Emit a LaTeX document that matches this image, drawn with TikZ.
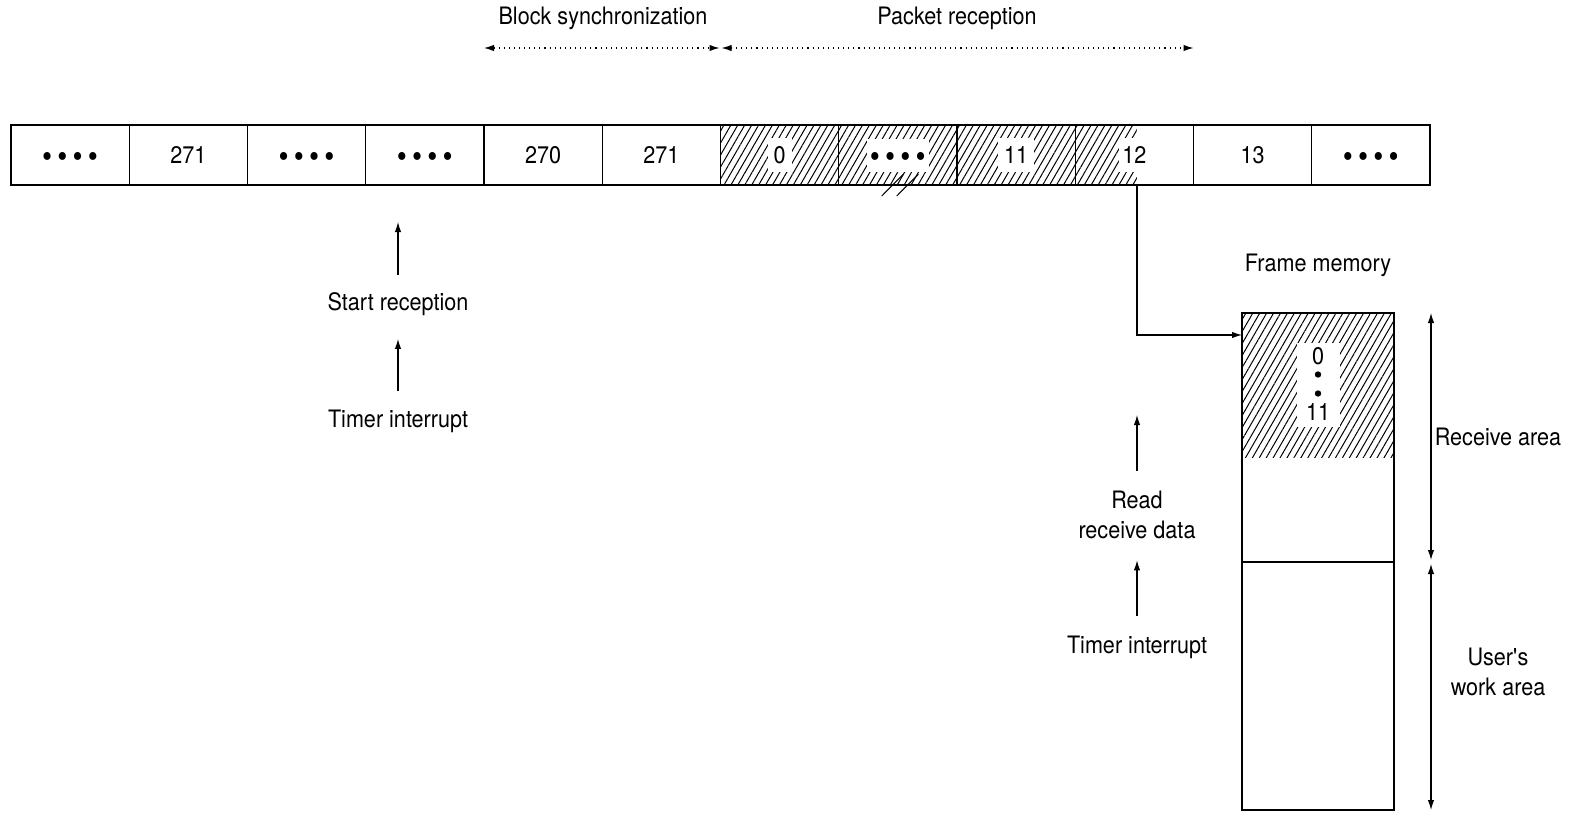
\documentclass[tikz,border=0pt]{standalone}
\usepackage{fontspec}
\setmainfont{TeX Gyre Heros}[FakeStretch=0.9]
\usetikzlibrary{patterns.meta,arrows.meta}
\newcommand\bigdot{{\fontsize{16}{16}\selectfont\raisebox{-6.4pt}[0pt][0pt]{\textbullet}}}
\newcommand\fourdots{\bigdot\hspace{2.6pt}\bigdot\hspace{2.6pt}\bigdot\hspace{2.6pt}\bigdot}
\begin{document}
\begin{tikzpicture}[x=0.5pt,y=-0.5pt,font=\fontsize{12}{14}\selectfont,
  cell/.style={draw,line width=0.7pt,minimum width=59.125pt,minimum height=30pt,inner sep=0pt,outer sep=0pt},
  hatch/.style={pattern={Lines[angle=60,distance=3pt,line width=0.5pt]}},
  arr/.style={line width=0.55pt,-{Latex[length=5pt,width=3.2pt]}},
  darr/.style={line width=0.55pt,{Latex[length=5pt,width=3.2pt]}-{Latex[length=5pt,width=3.2pt]}},
  dotarr/.style={line width=0.55pt,dotted,{Latex[length=5pt,width=3.2pt]}-{Latex[length=5pt,width=3.2pt]}},
  lab/.style={inner sep=1pt},
  wlab/.style={fill=white,inner xsep=3pt,inner ysep=4pt},
  mem/.style={draw,line width=0.7pt,minimum width=76pt,inner sep=0pt,outer sep=0pt}]
\useasboundingbox (0,0) rectangle (1570,815);

% cell row
\node[cell] (c1) at (70.125,155) {\fourdots};
\node[cell] (c2) at (188.375,155) {271};
\node[cell] (c3) at (306.625,155) {\fourdots};
\node[cell] (c4) at (424.875,155) {\fourdots};
\node[cell] (c5) at (543.125,155) {270};
\node[cell] (c6) at (661.375,155) {271};
\node[cell,hatch] (c7) at (779.625,155) {};
\node[cell,hatch] (c8) at (897.875,155) {};
\node[cell,hatch] (c9) at (1016.125,155) {};
\node[cell] (c10) at (1134.375,155) {};
\node[cell] (c11) at (1252.625,155) {13};
\node[cell] (c12) at (1370.875,155) {\fourdots};

\coordinate (tap) at ([xshift=1.3pt]c10.south);
\fill[hatch] (c10.north west) rectangle (tap);
\draw[line width=0.7pt] (c10.north west) rectangle (c10.south east);

\node[wlab] (l0) at (c7) {0};
\node[wlab,inner xsep=1.5pt,minimum height=16.5pt] (l1) at (c8) {\fourdots};
\node[wlab] (l2) at (c9) {11};
\node[wlab,inner xsep=1.5pt] (l3) at (c10) {12};

% break marks
\draw[line width=0.5pt] (881.7,196) -- (903.3,174.3);
\draw[line width=0.5pt] (896.7,196) -- (918.3,174.3);

% top spans
\coordinate (b1) at ([yshift=38.5pt]c5.north west);
\coordinate (b2) at ([yshift=38.5pt]c7.north west);
\coordinate (b3) at ([yshift=38.5pt]c10.north east);
\draw[dotarr,shorten >=0.5pt] (b1) -- (b2);
\draw[dotarr,shorten <=0.5pt] (b2) -- (b3);
\node[lab] (bs) at (603,18) {Block synchronization};
\node[lab] (pr) at (957,18) {Packet reception};

% left stack
\node[lab] (sr) at (398,304) {Start reception};
\node[lab] (ti1) at (398,421) {Timer interrupt};
\coordinate (a1) at (398,222);
\draw[arr,shorten <=7.5pt] (sr) -- (a1);
\draw[arr,shorten <=8pt,shorten >=10.5pt] (ti1) -- (sr);

% frame memory
\node[lab] (fmt) at (1318,265) {Frame memory};
\node[mem,minimum height=124.5pt,anchor=north west] (recv) at (1242,313) {};
\node[mem,minimum height=124pt,anchor=north] (user) at (recv.south) {};
\fill[hatch] (recv.north west) rectangle ([yshift=-72pt]recv.north east);
\draw[line width=0.7pt] (recv.north west) rectangle (recv.south east);
\node[fill=white,minimum width=21.5pt,minimum height=42pt,inner sep=0pt] (mlbox) at (1318,385) {};
\node[inner sep=0pt] (m0) at (1318,356) {0};
\node[inner sep=0pt] (m11) at (1318,412) {11};
\fill (1318,374.5) circle[radius=1.6pt];
\fill (1318,393.5) circle[radius=1.6pt];

\draw[arr] (tap) |- ([yshift=-11pt]recv.north west);

% dimension arrows
\coordinate (d1) at ([xshift=18.5pt]recv.north east);
\coordinate (d2) at ([xshift=18.5pt]recv.south east);
\coordinate (d3) at ([xshift=18.5pt]user.south east);
\draw[darr,shorten >=1pt] (d1) -- (d2);
\draw[darr,shorten <=1pt] (d2) -- (d3);
\node[lab] (ra) at (1498,437) {Receive area};
\node[lab,align=center] (ua) at (1498,672) {User\textquotesingle s\\[1pt]work area};

% right stack
\node[lab,align=center] (rrd) at (1137,515) {Read\\[1pt]receive data};
\node[lab] (ti2) at (1137,647) {Timer interrupt};
\coordinate (a2) at (1137,415);
\draw[arr,shorten <=9pt] (rrd) -- (a2);
\draw[arr,shorten <=8.5pt,shorten >=9.5pt] (ti2) -- (rrd);
\end{tikzpicture}
\end{document}
